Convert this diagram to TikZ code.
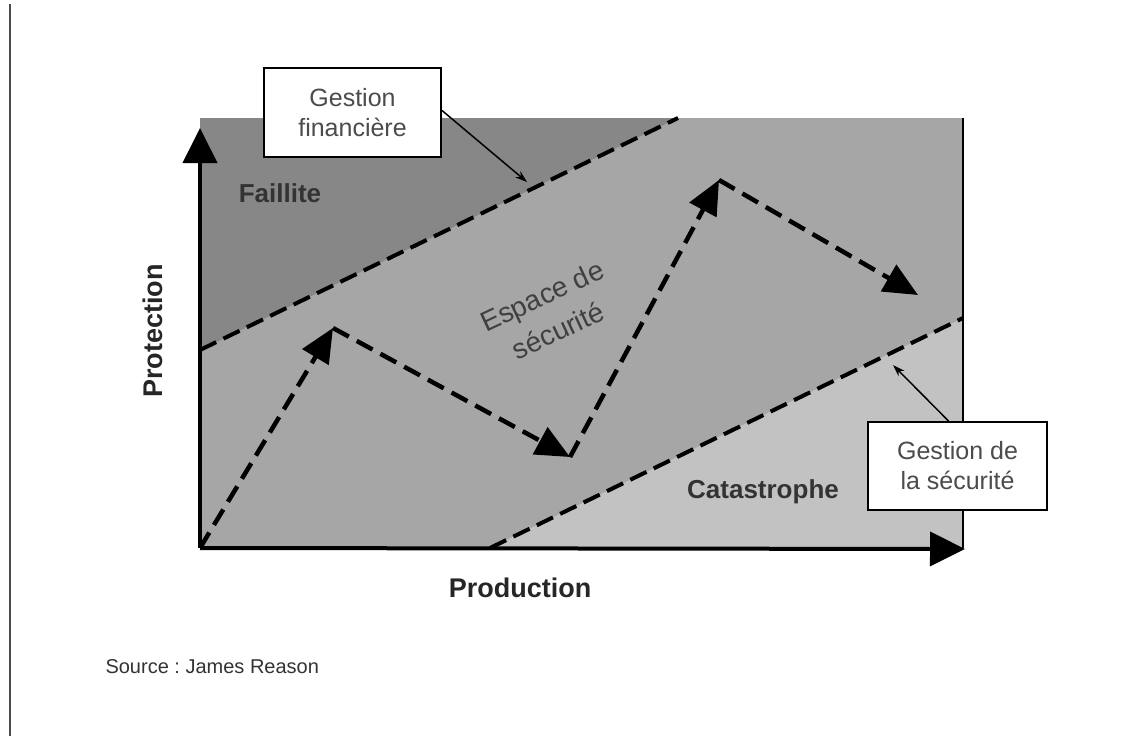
\documentclass[tikz,border=0pt]{standalone}
\usepackage{fontspec}
\setmainfont{Liberation Sans}
\usetikzlibrary{arrows.meta,calc}
\definecolor{failgray}{HTML}{878787}
\definecolor{safegray}{HTML}{A6A6A6}
\definecolor{catgray}{HTML}{C2C2C2}
\begin{document}
\frenchspacing
\begin{tikzpicture}[x=1pt,y=-1pt,
  boundary/.style={line width=4pt, dash pattern=on 18pt off 8pt},
  route/.style={line width=4.5pt, dash pattern=on 18pt off 9pt, -{Triangle[length=34pt,width=30pt]}},
  axisline/.style={line width=4pt, -{Triangle[length=35pt,width=34pt]}},
  callout/.style={draw=black, line width=2pt, fill=white, minimum width=177pt, minimum height=89pt,
    align=center, text=black!70, font=\fontsize{25}{30}\selectfont, inner sep=0pt},
  pointer/.style={line width=1.5pt, -{Stealth[length=12pt,width=8pt]}},
  zone/.style={text=black!80, font=\bfseries\fontsize{26}{30}\selectfont},
  axislabel/.style={font=\bfseries\fontsize{27}{30}\selectfont, text=black!85}
]
\useasboundingbox (0,0) rectangle (1133,736);
\fill[white] (0,0) rectangle (1133,736);
\draw[line width=2pt, black!70] (10,4) -- (10,736);

% key points
\coordinate (O) at (200,548);
\coordinate (ytip) at (200,128);
\coordinate (xtip) at (965,549);
\coordinate (f0) at (200,350);
\coordinate (f1) at (678,118);
\coordinate (s0) at (490,548);
\coordinate (s1) at (963,318);

% zones
\fill[safegray] (200,118) rectangle (963,548);
\fill[failgray] (200,118) -- (f1) -- (f0) -- cycle;
\fill[catgray] (s0) -- (s1) -- (963,548) -- cycle;
\draw[line width=2pt] (963,118) -- (963,548);

% boundaries
\draw[boundary] (f0) -- (f1);
\draw[boundary] (s0) -- (s1);

% zone labels
\node[zone] (fl) at (280,193) {Faillite};
\node[zone] (ct) at (763,492) {Catastrophe};
\node[rotate=25, align=center, font=\fontsize{28}{38}\selectfont, text=black!75] (es) at (550,313) {Espace de\\sécurité};

% trajectory
\coordinate (p1) at (333,328);
\coordinate (p2) at (570,457);
\coordinate (p3) at (719,180);
\coordinate (p4) at (918,295);
\draw[route] (O) -- (p1);
\draw[route] (p1) -- (p2);
\draw[route] (p2) -- (p3);
\draw[route] (p3) -- (p4);

% axes
\draw[axisline] (O) -- (ytip);
\draw[axisline] (O) -- (xtip);
\node[axislabel, rotate=90] (py) at (153,331) {Protection};
\node[axislabel] (px) at (520,588) {Production};

% callouts
\coordinate (fa) at (527,182);
\coordinate (sa) at (893,365);
\node[callout] (gf) at (352.5,112.5) {Gestion\\financière};
\node[callout, minimum width=179pt, minimum height=88pt] (gs) at (957.5,466) {Gestion de\\la sécurité};
\draw[pointer] ($(gf.east)+(0,-2)$) -- (fa);
\draw[pointer] ($(gs.north)+(-9,0)$) -- (sa);

\node[font=\fontsize{20}{24}\selectfont, text=black!80, anchor=west] (src) at (102,667) {Source : James Reason};
\end{tikzpicture}
\end{document}
